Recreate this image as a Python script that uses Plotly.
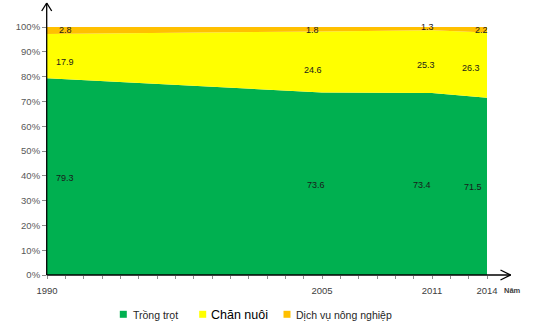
import plotly.graph_objects as go

# Cơ cấu giá trị sản xuất nông nghiệp (%)
years = [1990, 2005, 2011, 2014]
trong_trot = [79.3, 73.6, 73.4, 71.5]
chan_nuoi = [17.9, 24.6, 25.3, 26.3]
dich_vu = [2.8, 1.8, 1.3, 2.2]
year_labels = ["1990", "2005", "2011", "2014"]
y_ticks = [0, 10, 20, 30, 40, 50, 60, 70, 80, 90, 100]

series_names = ["Trồng trọt", "Chăn nuôi", "Dịch vụ nông nghiệp"]
series_values = [trong_trot, chan_nuoi, dich_vu]
colors = ["#00B050", "#FFFF00", "#FFC000"]

W, H = 545, 327
ML, MR, MT, MB = 47, 58, 27, 52
PW, PH = W - ML - MR, H - MT - MB


def px(x, y):
    """Pixel position on the page -> paper coordinates."""
    return (x - ML) / PW, (H - MB - y) / PH


fig = go.Figure()
for name, vals, color in zip(series_names, series_values, colors):
    fig.add_trace(go.Scatter(
        x=years, y=vals, name=name, stackgroup="one", mode="none",
        fillcolor=color, hoverinfo="skip", showlegend=False,
    ))

# value labels near the middle of each band (pixel nudges per label)
label_dx = [[18, -6, -10, -14], [18, -9, -6, -16], [18, -10, -5, -6]]
label_dy = [[-1, -1, -1, -1], [-6, -8, -3.5, -2.5], [0, -0.5, 1.5, 0]]
base = [0.0] * len(years)
for k, vals in enumerate(series_values):
    for i, yr in enumerate(years):
        fig.add_annotation(
            x=yr, y=base[i] + vals[i] / 2, text=f"{vals[i]}", showarrow=False,
            xshift=label_dx[k][i], yshift=label_dy[k][i],
            font=dict(size=9, color="#1a1a1a", family="Liberation Sans"),
        )
    base = [b + v for b, v in zip(base, vals)]

# axes drawn as arrows
line = dict(color="#000000", width=1.3)
shapes = []
for (x0, y0), (x1, y1) in [
    ((46.7, 275), (46.7, 3)), ((41.7, 11), (46.7, 3)), ((51.7, 11), (46.7, 3)),
    ((46.7, 275), (510.7, 275)), ((500.5, 270), (510.7, 275)), ((500.5, 280), (510.7, 275)),
]:
    a, b = px(x0, y0)
    c, d = px(x1, y1)
    shapes.append(dict(type="line", xref="paper", yref="paper",
                       x0=a, y0=b, x1=c, y1=d, line=line))

nx, ny = px(501.5, 290)
fig.add_annotation(
    xref="paper", yref="paper", x=nx, y=ny, text="<b>Năm</b>",
    showarrow=False, xanchor="left", yanchor="middle",
    font=dict(size=7.5, color="#404040", family="Liberation Sans"),
)

# legend row
legend_items = [
    (123.3, 131, dict(size=10.5, family="Liberation Sans", color="#262626")),
    (202.7, 209, dict(size=12.5, family="Liberation Sans", color="#000000")),
    (287.0, 294, dict(size=10.5, family="Liberation Sans", color="#262626")),
]
for (sq_x, tx, font), name, color in zip(legend_items, series_names, colors):
    a, b = px(sq_x - 3.5, 317.8)
    c, d = px(sq_x + 3.5, 310.8)
    shapes.append(dict(type="rect", xref="paper", yref="paper",
                       x0=a, y0=b, x1=c, y1=d, fillcolor=color, line=dict(width=0)))
    lx, ly = px(tx, 314.5)
    fig.add_annotation(xref="paper", yref="paper", x=lx, y=ly, text=name,
                       showarrow=False, xanchor="left", yanchor="middle", font=font)

fig.update_layout(
    width=W, height=H,
    margin=dict(l=ML, r=MR, t=MT, b=MB),
    paper_bgcolor="white", plot_bgcolor="white",
    shapes=shapes,
    showlegend=False,
    xaxis=dict(
        range=[1990, 2014], tickvals=years, ticktext=year_labels,
        showline=False, showgrid=False, zeroline=False, automargin=False,
        ticks="outside", ticklen=3, tickcolor="#8c8c8c",
        minor=dict(dtick=1, tick0=1990, ticks="outside", ticklen=3,
                   tickcolor="#8c8c8c", showgrid=False),
        ticklabelstandoff=4,
        tickfont=dict(size=9.5, color="#404040", family="Liberation Sans"),
    ),
    yaxis=dict(
        range=[0, 100], tickvals=y_ticks, ticktext=[f"{v}%" for v in y_ticks],
        showline=False, showgrid=False, zeroline=False, automargin=False,
        ticks="outside", ticklen=4, tickcolor="#8c8c8c",
        tickfont=dict(size=9.5, color="#595959", family="Liberation Sans"),
    ),
)

fig.write_html("out.html")
